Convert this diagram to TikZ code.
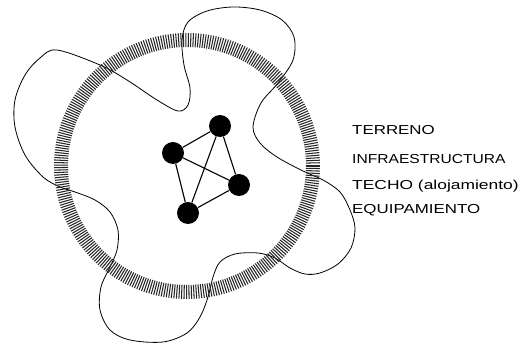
\documentclass[tikz,border=0pt]{standalone}
\usepackage{fontspec}
\setmainfont{Liberation Sans}
\begin{document}
\begin{tikzpicture}[x=1pt,y=-1pt,
  dot/.style={circle,fill=black,inner sep=0pt,minimum size=22pt},
  link/.style={line width=1.1pt},
  hatch/.style={line width=1.05pt,black!85},
  blob/.style={line width=0.8pt},
  lbl/.style={anchor=west,inner sep=0pt,font=\fontsize{13}{15}\selectfont}]
\useasboundingbox[fill=white] (0,0) rectangle (528,344);
% wavy outline
\draw[blob] plot[smooth cycle, tension=0.55] coordinates {
(57,50) (100,65) (127,80) (157,100) (178,111) (188,105) (190,88) (184,65) (182,40) (188,22) (207,11) (233,7) (260,10) (282,20) (294,37) (293,60) (278,83) (261,103) (253,127) (260,143) (277,157) (303,171) (323,180) (340,192) (350,210) (355,228) (351,248) (338,264) (320,273) (305,274) (290,268) (275,258) (258,253) (235,254) (220,262) (213,277) (208,297) (200,317) (187,333) (163,342) (130,340) (110,330) (100,310) (101,287) (110,267) (117,250) (118,230) (110,212) (95,200) (75,192) (60,187) (43,177) (25,155) (15,127) (15,100) (25,75) (40,58)};
% hatched ring
\coordinate (ctr) at (187,166);
\begin{scope}[shift={(ctr)}]
\foreach \a in {0,1.1,...,359.5} \draw[hatch] (\a:119) -- (\a:133);
\end{scope}
% graph
\node[dot] (a) at (220,126) {};
\node[dot] (b) at (173,153) {};
\node[dot] (c) at (239,185) {};
\node[dot] (d) at (188,213) {};
\draw[link] (a) -- (b) (a) -- (c) (a) -- (d) (b) -- (c) (b) -- (d) (c) -- (d);
% labels
\node[lbl] (t1) at (352,130) {\scalebox{1.30}[1]{TERRENO}};
\node[lbl] (t2) at (352,159) {\scalebox{1.20}[1]{INFRAESTRUCTURA}};
\node[lbl] (t3) at (352,186) {\scalebox{1.34}[1]{TECHO (alojamiento)}};
\node[lbl] (t4) at (352,210) {\scalebox{1.30}[1]{EQUIPAMIENTO}};
\end{tikzpicture}
\end{document}
